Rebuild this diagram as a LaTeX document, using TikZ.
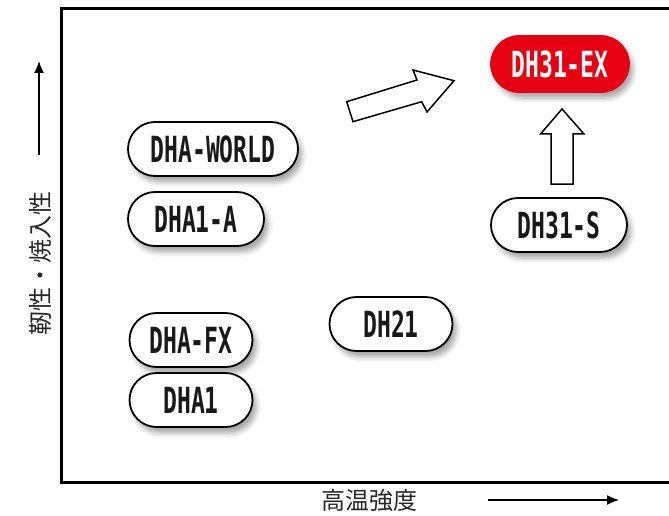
\documentclass[tikz,border=0pt]{standalone}
\usepackage{fontspec}
\newfontfamily\pillfont{DejaVu Sans Mono}[FakeStretch=0.64]
\newfontfamily\cjkfont{Noto Sans CJK JP}
\usetikzlibrary{shapes.misc,shadows.blur,arrows.meta}
\definecolor{exred}{HTML}{E60012}
\tikzset{
  pill/.style={rounded rectangle, draw=black, line width=1.8pt, fill=white, inner sep=0pt,
    minimum height=54pt, text=black!90,
    font=\pillfont\bfseries\fontsize{36}{36}\selectfont,
    blur shadow={shadow xshift=4pt, shadow yshift=-6pt, shadow blur radius=5pt, shadow opacity=35}},
  bigarrow/.style={draw=black, line width=1.5pt, fill=white, line join=miter},
  axisarrow/.style={line width=1.3pt, -{Latex[length=12pt,width=10pt]}},
  axislabel/.style={font=\cjkfont\fontsize{24}{24}\selectfont, text=black!85, inner sep=0pt}
}
\begin{document}
\begin{tikzpicture}[x=1pt,y=-1pt]
\useasboundingbox (0,0) rectangle (669,516);
% frame
\draw[line width=3pt] (672,9) -- (61,9) -- (61,482) -- (672,482);
% nodes
\node[pill, minimum width=138pt, minimum height=56pt, fill=exred, draw=exred, text=white] (ex) at (560,64) {DH31-EX};
\node[pill, minimum width=170pt] (world) at (213,149) {DHA-WORLD};
\node[pill, minimum width=136pt] (a1a) at (196,219) {DHA1-A};
\node[pill, minimum width=136pt] (s) at (559,225) {DH31-S};
\node[pill, minimum width=123pt] (d21) at (391,324) {DH21};
\node[pill, minimum width=123pt] (fx) at (191,340) {DHA-FX};
\node[pill, minimum width=123pt] (a1) at (191,400) {DHA1};
% big arrows
\draw[bigarrow] (346.7,101.7) -- (353,121.7) -- (421.7,101.7) -- (427,112) -- (454,80.7) -- (413,70) -- (417,80) -- cycle;
\draw[bigarrow] (551,184) -- (573,184) -- (573,134) -- (584,134) -- (562,109) -- (540.5,134) -- (551,134) -- cycle;
% axes
\coordinate (ya) at (39,155);
\coordinate (yb) at (39,61);
\draw[axisarrow] (ya) -- (yb);
\coordinate (xa) at (488,500);
\coordinate (xb) at (619,500);
\draw[axisarrow] (xa) -- (xb);
\node[axislabel, rotate=90] (ylab) at (40,263) {靭性・焼入性};
\node[axislabel] (xlab) at (369,500) {高温強度};
\end{tikzpicture}
\end{document}
